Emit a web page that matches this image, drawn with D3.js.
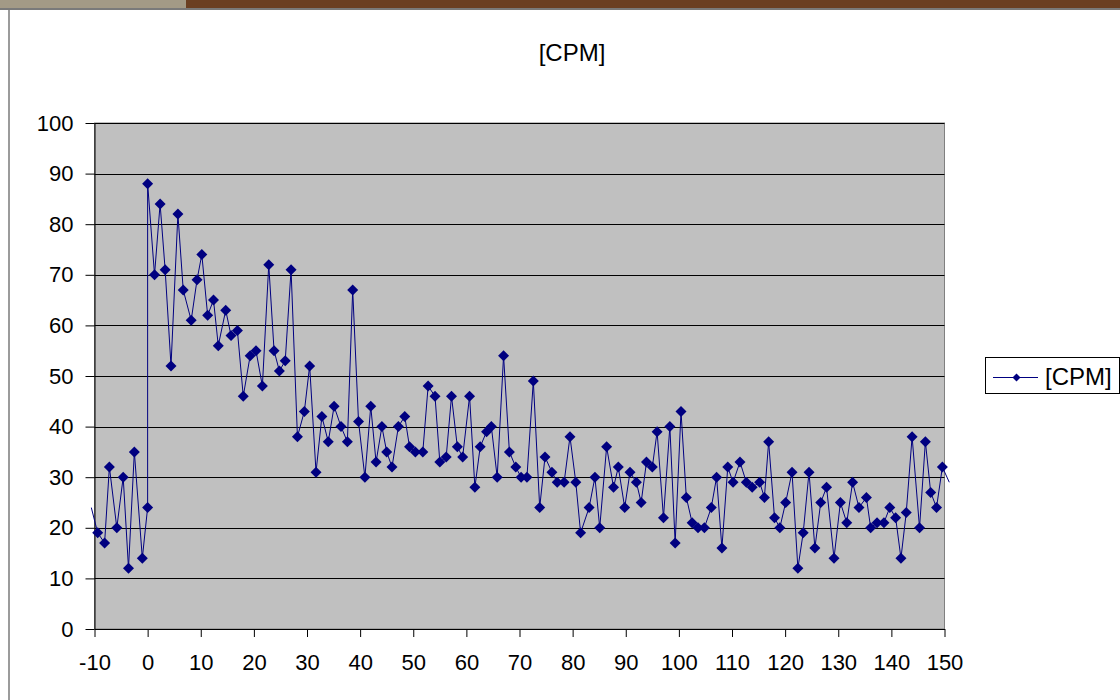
<!DOCTYPE html>
<html>
<head>
<meta charset="utf-8">
<script src="https://cdn.jsdelivr.net/npm/d3@7"></script>
<style>
    body { margin: 0; background: #ffffff; overflow: hidden; }
    svg { display: block; }
    text { font-family: "Liberation Sans", Arial, sans-serif; fill: #000000; }
</style>
</head>
<body>
<svg id="chart" width="1120" height="700"></svg>
<script>
// Data //
const seriesName = "[CPM]"
const minutes = [
    -10.6, -9.4, -8.1, -7.2, -5.8, -4.6, -3.6, -2.5, -1.0, 0.0,
    0.0, 1.3, 2.35, 3.3, 4.4, 5.7, 6.7, 8.2, 9.3, 10.2,
    11.3, 12.4, 13.3, 14.7, 15.7, 16.9, 18.0, 19.3, 20.4, 21.6,
    22.8, 23.8, 24.8, 25.9, 27.0, 28.2, 29.5, 30.5, 31.7, 32.8,
    34.0, 35.1, 36.4, 37.6, 38.6, 39.7, 40.9, 42.0, 43.0, 44.1,
    45.0, 46.0, 47.2, 48.4, 49.3, 50.4, 51.8, 52.8, 54.1, 55.0,
    56.2, 57.2, 58.3, 59.3, 60.6, 61.6, 62.6, 63.8, 64.7, 65.8,
    67.0, 68.1, 69.3, 70.3, 71.4, 72.6, 73.8, 74.8, 76.1, 77.1,
    78.4, 79.5, 80.6, 81.5, 83.1, 84.2, 85.1, 86.4, 87.7, 88.6,
    89.8, 90.8, 92.0, 92.9, 93.9, 95.0, 95.9, 97.1, 98.3, 99.3,
    100.4, 101.4, 102.5, 103.6, 104.8, 106.1, 107.1, 108.1, 109.2, 110.2,
    111.5, 112.7, 113.8, 115.2, 116.1, 116.9, 118.0, 119.0, 120.1, 121.3,
    122.4, 123.4, 124.5, 125.6, 126.7, 127.8, 129.2, 130.4, 131.6, 132.7,
    133.9, 135.3, 136.1, 137.3, 138.6, 139.7, 140.8, 141.8, 142.8, 143.9,
    145.3, 146.4, 147.4, 148.5, 149.6, 150.9
]
const cpm = [
    24, 19, 17, 32, 20, 30, 12, 35, 14, 24,
    88, 70, 84, 71, 52, 82, 67, 61, 69, 74,
    62, 65, 56, 63, 58, 59, 46, 54, 55, 48,
    72, 55, 51, 53, 71, 38, 43, 52, 31, 42,
    37, 44, 40, 37, 67, 41, 30, 44, 33, 40,
    35, 32, 40, 42, 36, 35, 35, 48, 46, 33,
    34, 46, 36, 34, 46, 28, 36, 39, 40, 30,
    54, 35, 32, 30, 30, 49, 24, 34, 31, 29,
    29, 38, 29, 19, 24, 30, 20, 36, 28, 32,
    24, 31, 29, 25, 33, 32, 39, 22, 40, 17,
    43, 26, 21, 20, 20, 24, 30, 16, 32, 29,
    33, 29, 28, 29, 26, 37, 22, 20, 25, 31,
    12, 19, 31, 16, 25, 28, 14, 25, 21, 29,
    24, 26, 20, 21, 21, 24, 22, 14, 23, 38,
    20, 37, 27, 24, 32, 29
]
const xTicks = [-10, 0, 10, 20, 30, 40, 50, 60, 70, 80, 90, 100, 110, 120, 130, 140, 150]
const yTicks = [0, 10, 20, 30, 40, 50, 60, 70, 80, 90, 100]

const points = minutes.map((m, i) => ({x: m, y: cpm[i]}))

var svg = d3.select("#chart")

// Window frame //
svg.append("rect")
    .attr("x", 0).attr("y", 0)
    .attr("width", 1120).attr("height", 8)
    .attr("fill", "#6b3f22")
svg.append("rect")
    .attr("x", 0).attr("y", 0)
    .attr("width", 186).attr("height", 8)
    .attr("fill", "#a39a86")
svg.append("line")
    .attr("x1", 0).attr("x2", 1120)
    .attr("y1", 9).attr("y2", 9)
    .attr("stroke", "#7a7a7a")
    .attr("stroke-width", 2)
svg.append("line")
    .attr("x1", 9).attr("x2", 9)
    .attr("y1", 9).attr("y2", 700)
    .attr("stroke", "#7a7a7a")
    .attr("stroke-width", 1.5)

// Scales //
var x = d3.scaleLinear()
    .domain([-10, 150])
    .range([94.5, 944.5])
var y = d3.scaleLinear()
    .domain([0, 100])
    .range([629, 123])

// Plot area //
svg.append("rect")
    .attr("x", x(-10)).attr("y", y(100))
    .attr("width", x(150) - x(-10))
    .attr("height", y(0) - y(100))
    .attr("fill", "#c0c0c0")
    .attr("stroke", "#808080")
    .attr("stroke-width", 1)

// Gridlines //
svg.append("g")
    .selectAll("line")
    .data(yTicks.filter(d => d > 0))
    .enter()
    .append("line")
    .attr("x1", x(-10)).attr("x2", x(150))
    .attr("y1", d => Math.round(y(d)) + 0.5)
    .attr("y2", d => Math.round(y(d)) + 0.5)
    .attr("stroke", "#000000")
    .attr("stroke-width", 1)

// Axes //
var yAxis = d3.axisLeft(y)
    .tickValues(yTicks)
    .tickFormat(d => String(d))
    .tickSizeInner(9)
    .tickSizeOuter(0)
    .tickPadding(12)
var xAxis = d3.axisBottom(x)
    .tickValues(xTicks)
    .tickFormat(d => String(d))
    .tickSizeInner(8)
    .tickSizeOuter(0)
    .tickPadding(17)

var gy = svg.append("g")
    .attr("transform", "translate(" + x(-10) + ",0)")
    .call(yAxis)
var gx = svg.append("g")
    .attr("transform", "translate(0," + y(0) + ")")
    .call(xAxis)

svg.selectAll(".domain").attr("stroke", "#000000")
svg.selectAll(".tick line").attr("stroke", "#000000")
svg.selectAll(".tick text")
    .attr("font-size", 22)
    .attr("font-family", "'Liberation Sans', Arial, sans-serif")
    .attr("fill", "#000000")

// Series //
svg.append("clipPath")
    .attr("id", "plotClip")
    .append("rect")
    .attr("x", x(-10) - 4).attr("y", y(100))
    .attr("width", x(150) - x(-10) + 10)
    .attr("height", y(0) - y(100))

var line = d3.line()
    .x(d => x(d.x))
    .y(d => y(d.y))

svg.append("path")
    .datum(points)
    .attr("clip-path", "url(#plotClip)")
    .attr("d", line)
    .attr("fill", "none")
    .attr("stroke", "#000080")
    .attr("stroke-width", 1)

const diamond = r => "M0," + (-r) + "L" + r + ",0L0," + r + "L" + (-r) + ",0Z"

svg.append("g")
    .selectAll("path")
    .data(points.filter(d => d.x >= -10 && d.x <= 150))
    .enter()
    .append("path")
    .attr("transform", d => "translate(" + x(d.x) + "," + y(d.y) + ")")
    .attr("d", diamond(5.5))
    .attr("fill", "#000080")

// Title //
svg.append("text")
    .attr("x", 572)
    .attr("y", 61)
    .attr("text-anchor", "middle")
    .attr("font-size", 24)
    .text(seriesName)

// Legend //
svg.append("rect")
    .attr("x", 985.5).attr("y", 357.5)
    .attr("width", 134).attr("height", 36)
    .attr("fill", "#ffffff")
    .attr("stroke", "#000000")
    .attr("stroke-width", 1)
svg.append("line")
    .attr("x1", 993).attr("x2", 1038)
    .attr("y1", 377.5).attr("y2", 377.5)
    .attr("stroke", "#000080")
    .attr("stroke-width", 1)
svg.append("path")
    .attr("transform", "translate(1016.5,377.5)")
    .attr("d", diamond(4))
    .attr("fill", "#000080")
svg.append("text")
    .attr("x", 1045)
    .attr("y", 385)
    .attr("font-size", 24)
    .text(seriesName)
</script>
</body>
</html>
